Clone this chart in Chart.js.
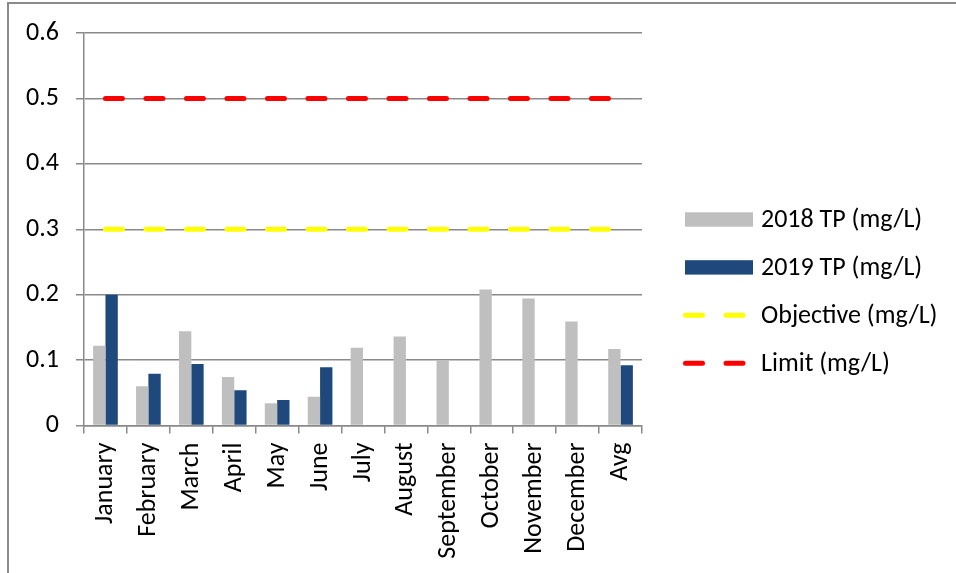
<!DOCTYPE html>
<html>
<head>
<meta charset="utf-8">
<script src="https://cdn.jsdelivr.net/npm/chart.js@4.4.1/dist/chart.umd.min.js"></script>
<style>
  html, body { margin: 0; padding: 0; background: #fff; }
  #wrap { position: relative; width: 956px; height: 573px; }
  #frame { position: absolute; left: 7px; top: 2px; right: 0; bottom: 0;
           border-left: 2px solid #8a8a8a; border-top: 2px solid #8a8a8a; }
  canvas { position: absolute; left: 0; top: 0; }
</style>
</head>
<body>
<div id="wrap">
  <div id="frame"></div>
  <canvas id="chart" width="956" height="573"></canvas>
</div>
<script>
const months = ['January', 'February', 'March', 'April', 'May', 'June', 'July',
  'August', 'September', 'October', 'November', 'December', 'Avg']

const tp2018 = [0.122, 0.06, 0.144, 0.074, 0.034, 0.044, 0.119, 0.136, 0.1, 0.208, 0.194, 0.159, 0.117]
const tp2019 = [0.2, 0.079, 0.094, 0.054, 0.039, 0.089, null, null, null, null, null, null, 0.092]
const objective = [0.3, 0.3, 0.3, 0.3, 0.3, 0.3, 0.3, 0.3, 0.3, 0.3, 0.3, 0.3, 0.3]
const limit = [0.5, 0.5, 0.5, 0.5, 0.5, 0.5, 0.5, 0.5, 0.5, 0.5, 0.5, 0.5, 0.5]

const yTicks = [0, 0.1, 0.2, 0.3, 0.4, 0.5, 0.6]

const FONT = 'Carlito, Lato, sans-serif'
const gridGray = '#898989'
const dash = [17, 23.5]

// legend drawn by hand, so box size and text gap match the picture
const sideLegend = {
  id: 'sideLegend',
  afterDraw(chart) {
    const ctx = chart.ctx
    const x0 = 685, top = 219.5, step = 47.9
    ctx.save()
    chart.data.datasets.forEach((ds, i) => {
      let y = top + i * step
      if (ds.type === 'line') {
        ctx.strokeStyle = ds.borderColor
        ctx.lineWidth = ds.borderWidth
        ctx.lineCap = 'round'
        ctx.setLineDash(ds.borderDash)
        ctx.beginPath()
        ctx.moveTo(x0 + 0.5, y)
        ctx.lineTo(x0 + 68.5, y)
        ctx.stroke()
        ctx.setLineDash([])
      } else {
        ctx.fillStyle = ds.backgroundColor
        ctx.fillRect(x0, y - 7.2, 68, 14.4)
      }
      ctx.fillStyle = '#000'
      ctx.font = '26px ' + FONT
      ctx.textBaseline = 'middle'
      ctx.textAlign = 'left'
      ctx.fillText(ds.label, 761, y + 1)
    })
    ctx.restore()
  }
}

var data = {
  labels: months,
  datasets: [
    {
      type: 'bar',
      label: '2018 TP (mg/L)',
      data: tp2018,
      backgroundColor: '#bfbfbf',
      order: 2
    },
    {
      type: 'bar',
      label: '2019 TP (mg/L)',
      data: tp2019,
      backgroundColor: '#1f497d',
      order: 2
    },
    {
      type: 'line',
      label: 'Objective (mg/L)',
      data: objective,
      borderColor: '#ffff00',
      borderWidth: 5,
      borderDash: dash,
      borderCapStyle: 'round',
      pointRadius: 0,
      fill: false,
      order: 1
    },
    {
      type: 'line',
      label: 'Limit (mg/L)',
      data: limit,
      borderColor: '#ff0000',
      borderWidth: 5,
      borderDash: dash,
      borderCapStyle: 'round',
      pointRadius: 0,
      fill: false,
      order: 0
    }
  ]
}

var config = {
  type: 'bar',
  data: data,
  plugins: [sideLegend],
  options: {
    responsive: false,
    animation: false,
    devicePixelRatio: 1,
    layout: { padding: { top: 33, right: 314, left: 0, bottom: 0 } },
    datasets: {
      bar: { categoryPercentage: 0.575, barPercentage: 1.0 }
    },
    plugins: {
      legend: { display: false },
      tooltip: { enabled: false }
    },
    scales: {
      x: {
        offset: true,
        grid: {
          offset: true,
          drawOnChartArea: false,
          drawTicks: true,
          tickLength: 8,
          color: gridGray,
          lineWidth: 1.5
        },
        border: { display: true, color: gridGray, width: 1.5 },
        ticks: {
          autoSkip: false,
          minRotation: 90,
          maxRotation: 90,
          padding: 9,
          color: '#000',
          font: { family: FONT, size: 26 }
        },
        afterFit(scale) { scale.height = 147.5 }
      },
      y: {
        min: 0,
        max: 0.6,
        afterBuildTicks(scale) {
          scale.ticks = yTicks.map(v => ({ value: v }))
        },
        grid: {
          color: gridGray,
          lineWidth: 1.5,
          tickLength: 8
        },
        border: { display: true, color: gridGray, width: 1.5 },
        ticks: {
          padding: 17,
          color: '#000',
          font: { family: FONT, size: 26 },
          callback: v => v === 0 ? '0' : v.toFixed(1)
        },
        afterFit(scale) { scale.width = 84 }
      }
    }
  }
}

const myChart = new Chart(
  document.getElementById('chart'),
  config
)
</script>
</body>
</html>
